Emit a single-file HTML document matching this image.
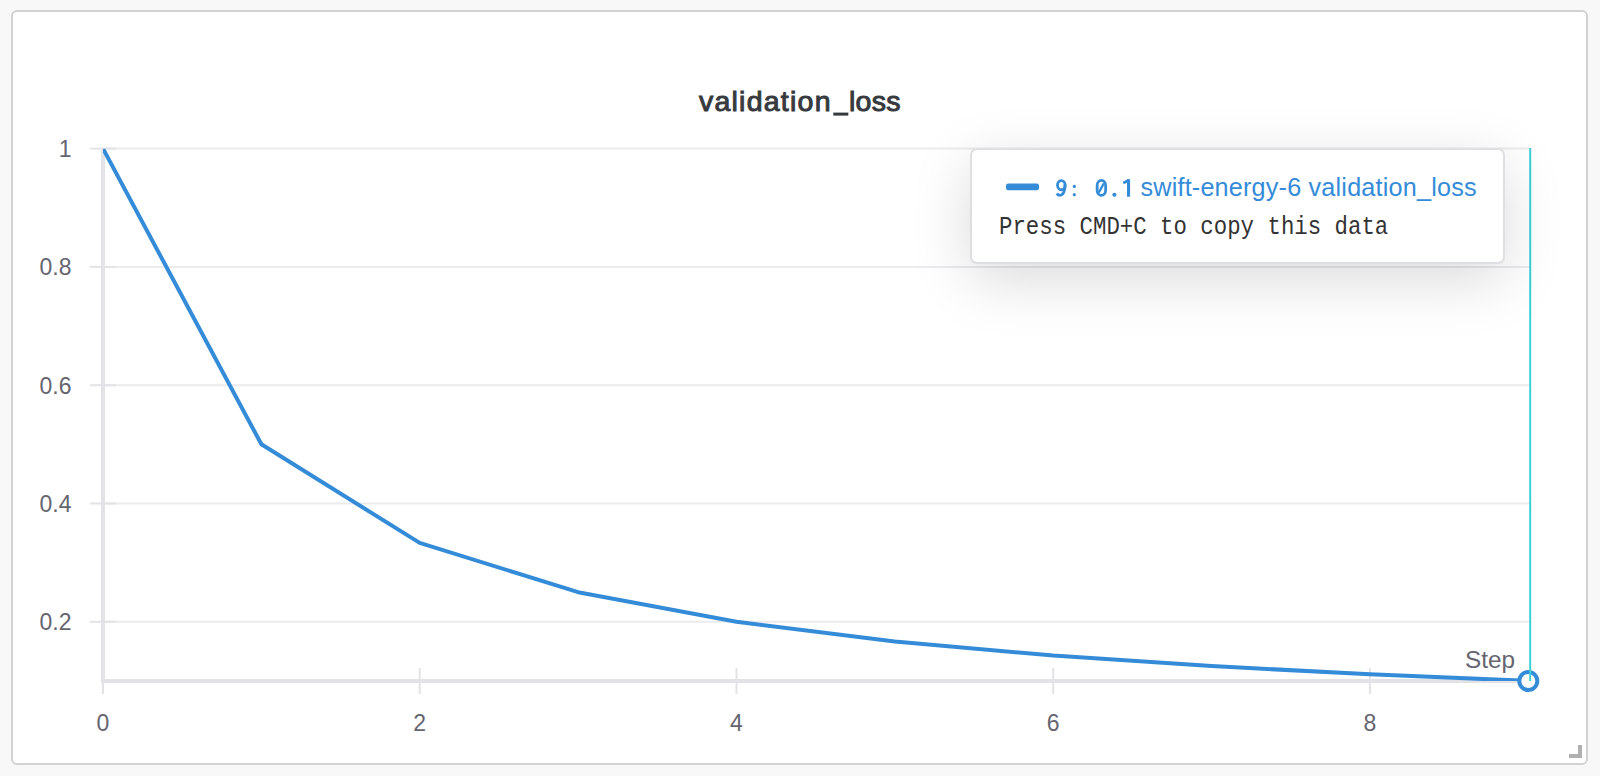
<!DOCTYPE html>
<html><head><meta charset="utf-8"><style>
html,body{margin:0;padding:0;width:1600px;height:776px;overflow:hidden;background:#f8f8f8;font-family:"Liberation Sans",sans-serif;}
.card{position:absolute;left:11px;top:10px;width:1577px;height:755px;box-sizing:border-box;border:2px solid #d2d2d2;border-radius:6px;background:#fff;}
svg{position:absolute;left:0;top:0;}
.tip{position:absolute;left:970px;top:148px;width:535px;height:116px;box-sizing:border-box;border:2px solid #dedfe2;border-radius:7px;background:#fff;box-shadow:0 16px 60px rgba(0,0,0,0.15);}
</style></head><body>
<div class="card"></div>
<svg width="1600" height="776" viewBox="0 0 1600 776">
  <g font-family="Liberation Sans" font-size="28.5" fill="#363a3e" stroke="#363a3e" stroke-width="1">
    <text x="699" y="111.4" textLength="131.5" lengthAdjust="spacing">validation</text>
    <text x="849" y="111.4" textLength="51.5" lengthAdjust="spacing">loss</text>
  </g>
  <rect x="833.3" y="112.6" width="15" height="3" fill="#363a3e"/>
  <g stroke="#ebebee" stroke-width="2" fill="none">
    <line x1="105" y1="148.6" x2="1529" y2="148.6"/>
    <line x1="105" y1="266.9" x2="1529" y2="266.9"/>
    <line x1="105" y1="385.2" x2="1529" y2="385.2"/>
    <line x1="105" y1="503.5" x2="1529" y2="503.5"/>
    <line x1="105" y1="621.8" x2="1529" y2="621.8"/>
  </g>
  <g stroke="#e3e3e7" stroke-width="2" fill="none">
    <line x1="90" y1="148.6" x2="116" y2="148.6"/>
    <line x1="90" y1="266.9" x2="116" y2="266.9"/>
    <line x1="90" y1="385.2" x2="116" y2="385.2"/>
    <line x1="90" y1="503.5" x2="116" y2="503.5"/>
    <line x1="90" y1="621.8" x2="116" y2="621.8"/>
    <line x1="103" y1="668" x2="103" y2="694"/>
    <line x1="419.7" y1="668" x2="419.7" y2="694"/>
    <line x1="736.5" y1="668" x2="736.5" y2="694"/>
    <line x1="1053.2" y1="668" x2="1053.2" y2="694"/>
    <line x1="1369.9" y1="668" x2="1369.9" y2="694"/>
  </g>
  <g stroke="#e3e3e7" stroke-width="4" fill="none">
    <line x1="103" y1="148" x2="103" y2="683"/>
    <line x1="101" y1="681" x2="1529" y2="681"/>
  </g>
  <g font-family="Liberation Sans" font-size="23" fill="#65656f">
    <g text-anchor="end">
      <text x="71.5" y="156.9">1</text>
      <text x="71.5" y="275.2">0.8</text>
      <text x="71.5" y="393.5">0.6</text>
      <text x="71.5" y="511.8">0.4</text>
      <text x="71.5" y="630.1">0.2</text>
    </g>
    <g text-anchor="middle">
      <text x="103" y="730.8">0</text>
      <text x="419.7" y="730.8">2</text>
      <text x="736.5" y="730.8">4</text>
      <text x="1053.2" y="730.8">6</text>
      <text x="1369.9" y="730.8">8</text>
    </g>
    <text x="1465" y="668" font-size="24.3">Step</text>
  </g>
  <defs><clipPath id="pc"><rect x="103" y="148.8" width="1426" height="532.1"/></clipPath></defs>
  <polyline clip-path="url(#pc)" fill="none" stroke="#348cd9" stroke-width="4" stroke-linejoin="round" points="103.0,148.6 261.4,444.3 419.7,542.9 578.1,592.2 736.5,621.8 894.8,641.5 1053.2,655.6 1211.6,666.1 1369.9,674.3 1528.3,680.9"/>
  <circle cx="1528.3" cy="681" r="9" fill="#fff" stroke="#348cd9" stroke-width="4"/>
  <line x1="1530.2" y1="148" x2="1530.2" y2="681" stroke="#3ccfd6" stroke-width="2"/>
  <path d="M1578 745h4v13h-13v-4h9z" fill="#b0b0b0"/>
</svg>
<div class="tip"></div>
<svg width="1600" height="776" viewBox="0 0 1600 776">
  <rect x="1006" y="183.5" width="33" height="6.7" rx="2.2" fill="#348cd9"/>
  <g fill="none" stroke="#348cd9">
    <ellipse cx="1061.3" cy="185.2" rx="3.8" ry="4.55" stroke-width="2.8"/>
    <path d="M1065.1 184.5C1065.25 191.4 1062.9 195.3 1060.2 195.3C1058.5 195.3 1057.4 194.6 1056.8 193.5" stroke-width="2.8"/>
    <rect x="1097.15" y="180.35" width="8.5" height="15.0" rx="4.25" ry="5.1" stroke-width="2.8"/>
    <path d="M1098.9 192.4L1103.9 183.3" stroke-width="2.3"/>
  </g>
  <g fill="#348cd9">
    <circle cx="1074.3" cy="186.4" r="1.6"/>
    <circle cx="1074.3" cy="194.7" r="1.6"/>
    <circle cx="1114.4" cy="194.75" r="2.1"/>
    <path d="M1127 179.2h3.1v17.5h-3.1z"/>
    <path d="M1128.3 178.9L1122.7 181.7L1123.8 184.3L1128.6 181.9z"/>
  </g>
  <text x="1140.5" y="195.9" fill="#348cd9" font-family="Liberation Sans" font-size="25.2" textLength="336" lengthAdjust="spacing">swift-energy-6 validation_loss</text>
  <text x="999" y="234" fill="#333333" font-family="Liberation Mono" font-size="22.37" transform="translate(0 234) scale(1 1.12) translate(0 -234)">Press CMD+C to copy this data</text>
</svg>
</body></html>
